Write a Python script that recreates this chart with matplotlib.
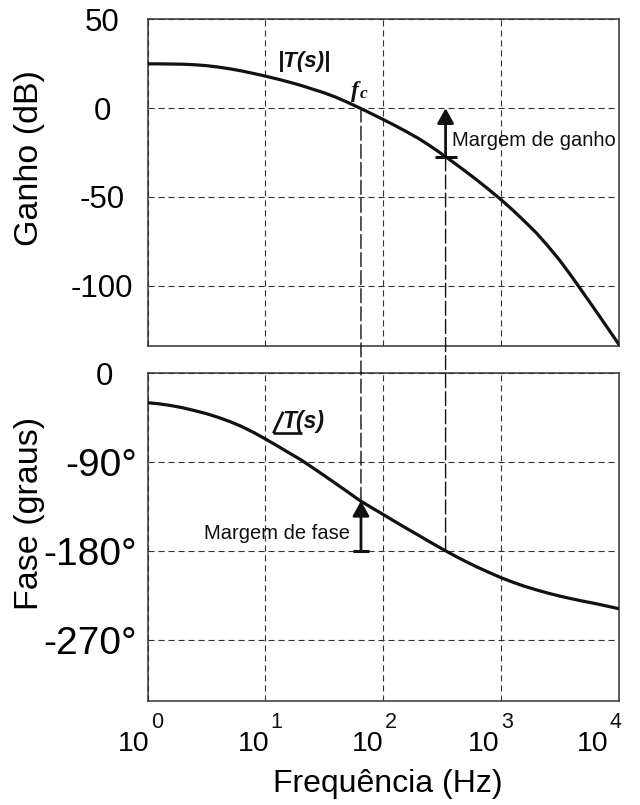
import matplotlib
matplotlib.use('Agg')
import matplotlib.pyplot as plt
from matplotlib.patches import ConnectionPatch
from matplotlib.lines import Line2D
from matplotlib.transforms import ScaledTranslation, blended_transform_factory

plt.rcParams['font.family'] = ['Liberation Sans', 'DejaVu Sans']

# ---------------- data ----------------
freq = [1, 1.26, 1.58, 2, 2.51, 3.16, 3.98, 5.01, 6.31, 7.94,
        10, 12.6, 15.8, 20, 25.1, 31.6, 39.8, 50.1, 63.1, 79.4,
        100, 126, 158, 200, 251, 316, 398, 501, 631, 794,
        1000, 1260, 1580, 2000, 2510, 3160, 3980, 5010, 6310, 7940,
        10000]
gain_db = [25.0, 25.0, 24.9, 24.8, 24.5, 24.0, 23.2, 22.2, 21.0, 19.6,
           18.1, 16.5, 14.8, 12.9, 10.8, 8.7, 6.2, 3.3, 0.2, -3.0,
           -6.3, -9.7, -13.2, -17.0, -21.2, -25.8, -30.6, -35.5, -40.6, -45.9,
           -51.4, -57.3, -63.5, -70.2, -77.6, -85.6, -94.6, -104.0, -113.5,
           -123.1, -132.8]
phase_deg = [-29.7, -30.9, -32.6, -34.9, -37.7, -40.8, -44.5, -48.8, -53.8,
             -59.7, -66.3, -73.2, -80.2, -87.3, -95.2, -103.3, -111.6, -119.9,
             -128.4, -135.6, -142.6, -149.8, -156.7, -163.7, -170.6, -177.4,
             -183.9, -190.1, -195.9, -201.3, -206.5, -211.1, -215.2, -218.9,
             -222.2, -225.2, -227.9, -230.4, -232.7, -235.3, -237.9]

# crossover readings
f_c = 65            # gain crossover frequency (|T| = 0 dB)
phase_at_fc = -129  # phase at f_c
f_180 = 340         # phase crossover frequency (-180 deg)
gain_at_f180 = -27.5

x_ticks = [1, 10, 100, 1000, 10000]
x_tick_bases = ['10', '10', '10', '10', '10']
x_tick_exps = ['0', '1', '2', '3', '4']
gain_ticks = [50, 0, -50, -100]
gain_tick_labels = ['50', '0', '-50', '-100']
phase_ticks = [0, -90, -180, -270]
phase_tick_labels = ['0', '-90°', '-180°', '-270°']

# ---------------- figure ----------------
W, H = 640, 805
fig = plt.figure(figsize=(6.4, 8.05), dpi=100)


def box(l, t, r, b):
    return [l / W, 1 - b / H, (r - l) / W, (b - t) / H]


def fp(x, y):
    return (x / W, 1 - y / H)


ax1 = fig.add_axes(box(147.5, 19.5, 618.5, 346))
ax2 = fig.add_axes(box(147.5, 373.3, 618.5, 700.7))

INK = '#111111'
GRID = '#333333'

for ax in (ax1, ax2):
    ax.set_xscale('log')
    ax.set_xlim(1, 1e4)
    for s in ax.spines.values():
        s.set_color(GRID)
        s.set_linewidth(1.1)
    ax.set_xticks(x_ticks)
    ax.tick_params(which='both', length=0)
    ax.grid(True, which='major', color=GRID, linewidth=0.8,
            linestyle=(0, (5.5, 3.5)))
    ax.minorticks_off()

ax1.set_ylim(-134, 50)
ax2.set_ylim(-331, 0)

ax1.set_yticks(gain_ticks)
ax1.set_yticklabels(gain_tick_labels, fontsize=22.5)
ax1.tick_params(axis='y', pad=32.5)
for lab in ax1.get_yticklabels():
    lab.set_ha('center')
ax1.tick_params(axis='x', labelbottom=False)

ax2.set_yticks(phase_ticks)
ax2.set_yticklabels(phase_tick_labels, fontsize=28)
ax2.tick_params(axis='y', pad=7.5)
ax2.set_xticklabels(x_tick_bases, fontsize=20.5)
ax2.tick_params(axis='x', pad=36.5)
for lab in ax2.get_xticklabels():
    lab.set_va('baseline')
    lab.set_ha('right')

# curves
ax1.plot(freq, gain_db, color=INK, lw=2.3, solid_joinstyle='round', zorder=3)
ax2.plot(freq, phase_deg, color=INK, lw=2.3, solid_joinstyle='round', zorder=3)

# axis labels
ax1.set_ylabel('Ganho (dB)', fontsize=24.5)
ax1.yaxis.set_label_coords(-0.218, 0.576)
ax2.set_ylabel('Fase (graus)', fontsize=24.5)
ax2.yaxis.set_label_coords(-0.218, 0.573)
ax2.set_xlabel('Frequência (Hz)', fontsize=23)
ax2.xaxis.set_label_coords(0.51, -0.209)

# exponents of the x tick labels
bt = blended_transform_factory(ax2.transData, ax2.transAxes)
x_shift_px = [2.5, 4, 0, -1, -10]
for f, e, dx in zip(x_ticks, x_tick_exps, x_shift_px):
    ax2.annotate(e, xy=(f, 0), xycoords=bt,
                 xytext=((dx + 1.5) * 0.72, -27.3 * 0.72),
                 textcoords='offset points', ha='left', va='baseline',
                 fontsize=15.5, color=INK, annotation_clip=False)

# margin arrows
arrow_kw = dict(arrowstyle='-|>,head_length=0.9,head_width=0.5',
                color=INK, lw=2.0, shrinkA=0, shrinkB=0, mutation_scale=10)
ax1.annotate('', xy=(f_180, 0), xytext=(f_180, gain_at_f180),
             arrowprops=arrow_kw, zorder=4)
ax1.plot([f_180], [gain_at_f180], marker='_', markersize=16, mew=2.2,
         color=INK, zorder=4)
ax2.annotate('', xy=(f_c, phase_at_fc), xytext=(f_c, -180),
             arrowprops=arrow_kw, zorder=4)
ax2.plot([f_c], [-180], marker='_', markersize=11, mew=2.2, color=INK,
         zorder=4)

# long-dashed connecting lines across both panels
for xyA, xyB in [((f_c, 0), (f_c, phase_at_fc)),
                 ((f_180, gain_at_f180), (f_180, -180))]:
    con = ConnectionPatch(xyA=xyA, coordsA=ax1.transData, xyB=xyB,
                          coordsB=ax2.transData, color=INK, lw=1.0,
                          linestyle=(0, (10, 3)))
    fig.add_artist(con)

# annotations
fig.text(*fp(305, 67.5), '|T(s)|', ha='center', va='baseline', fontsize=16,
         fontweight='bold', fontstyle='italic', color=INK)
fig.text(*fp(351, 96.5), 'f', ha='left', va='baseline', fontsize=17,
         family='Liberation Serif', fontweight='bold', fontstyle='italic',
         color=INK)
fig.text(*fp(360, 97.5), 'c', ha='left', va='baseline', fontsize=12.5,
         family='Liberation Serif', fontweight='bold', fontstyle='italic',
         color=INK)
fig.text(*fp(452, 146.5), 'Margem de ganho', ha='left', va='baseline',
         fontsize=14.5, color=INK)
fig.text(*fp(350, 539.4), 'Margem de fase', ha='right', va='baseline',
         fontsize=14.5, color=INK)
fig.text(*fp(282, 428.3), 'T(s)', ha='left', va='baseline', fontsize=16.5,
         fontweight='bold', fontstyle='italic', color=INK)
x0, y0 = fp(273.3, 433.3)
x1, y1 = fp(283.3, 411.7)
x2, _ = fp(301.7, 433.3)
fig.add_artist(Line2D([x0, x1], [y0, y1], transform=fig.transFigure,
                      color=INK, lw=1.9, solid_capstyle='butt'))
fig.add_artist(Line2D([x0, x2], [y0, y0], transform=fig.transFigure,
                      color=INK, lw=1.9, solid_capstyle='butt'))

# per-label fine placement, like the reference
fig.canvas.draw()
for lab in ax2.get_yticklabels():
    if lab.get_text() == '0':
        lab.set_fontsize(22.5)
        lab.set_transform(lab.get_transform() +
                          ScaledTranslation(-0.24, 0, fig.dpi_scale_trans))
for lab, dx in zip(ax2.get_xticklabels(), x_shift_px):
    lab.set_transform(lab.get_transform() +
                      ScaledTranslation(dx / 100, 0, fig.dpi_scale_trans))

fig.savefig('out.png', dpi=100, facecolor='white')
